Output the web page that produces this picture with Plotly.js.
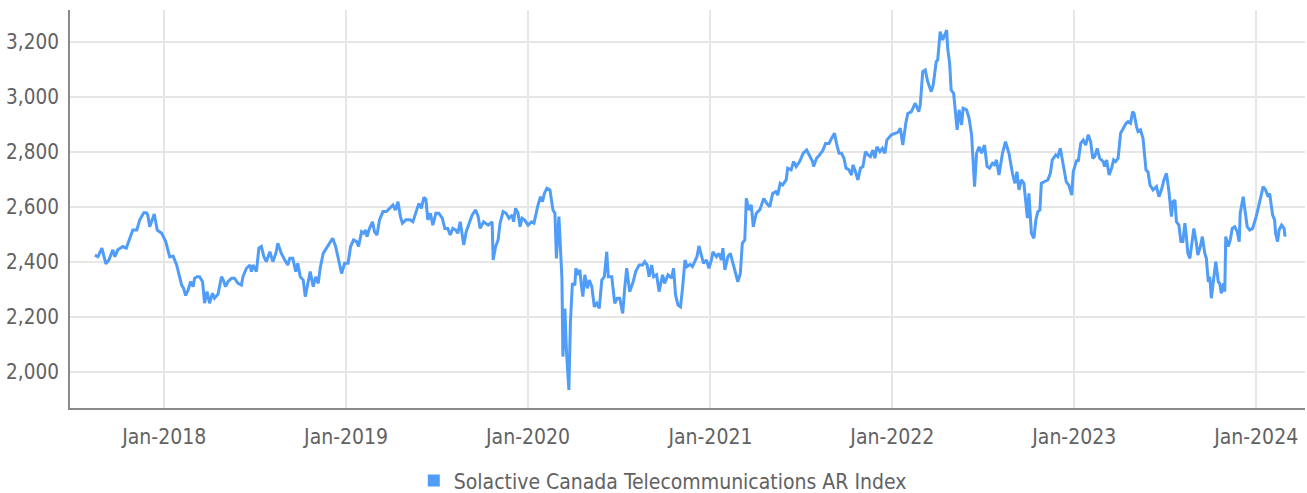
<!DOCTYPE html>
<html>
<head>
<meta charset="utf-8">
<script src="https://cdn.plot.ly/plotly-3.0.1.min.js"></script>
<style>
html,body{margin:0;padding:0;background:#fff;}
#chart{width:1307px;height:493px;}
</style>
</head>
<body>
<div id="chart"></div>
<script>
const seriesName = "Solactive Canada Telecommunications AR Index";

const dates = [
"2017-08-15","2017-08-21","2017-08-29","2017-09-06","2017-09-12","2017-09-20","2017-09-24","2017-09-30","2017-10-10","2017-10-17",
"2017-10-24","2017-10-30","2017-11-07","2017-11-13","2017-11-21","2017-11-26","2017-11-29","2017-12-03","2017-12-12","2017-12-18",
"2017-12-27","2018-01-04","2018-01-12","2018-01-19","2018-01-26","2018-01-31","2018-02-05","2018-02-09","2018-02-13","2018-02-18",
"2018-02-23","2018-02-28","2018-03-03","2018-03-08","2018-03-13","2018-03-19","2018-03-23","2018-03-28","2018-04-02","2018-04-08",
"2018-04-12","2018-04-19","2018-04-26","2018-04-30","2018-05-04","2018-05-09","2018-05-16","2018-05-22","2018-05-29","2018-06-05",
"2018-06-08","2018-06-15","2018-06-22","2018-06-25","2018-06-28","2018-07-05","2018-07-10","2018-07-15","2018-07-20","2018-07-25",
"2018-08-01","2018-08-07","2018-08-13","2018-08-17","2018-08-24","2018-08-31","2018-09-06","2018-09-10","2018-09-16","2018-09-22",
"2018-09-26","2018-10-01","2018-10-07","2018-10-11","2018-10-17","2018-10-21","2018-10-27","2018-11-01","2018-11-06","2018-11-10",
"2018-11-16","2018-11-22","2018-11-28","2018-12-05","2018-12-11","2018-12-18","2018-12-23","2018-12-29","2019-01-05","2019-01-10",
"2019-01-16","2019-01-22","2019-01-26","2019-02-01","2019-02-05","2019-02-09","2019-02-12","2019-02-17","2019-02-23","2019-02-27",
"2019-03-04","2019-03-09","2019-03-16","2019-03-23","2019-03-29","2019-04-05","2019-04-10","2019-04-15","2019-04-20","2019-04-24",
"2019-05-01","2019-05-09","2019-05-15","2019-05-22","2019-05-27","2019-06-01","2019-06-06","2019-06-10","2019-06-14","2019-06-19",
"2019-06-24","2019-06-30","2019-07-06","2019-07-13","2019-07-18","2019-07-24","2019-07-29","2019-08-03","2019-08-09","2019-08-13",
"2019-08-18","2019-08-25","2019-08-30","2019-09-06","2019-09-11","2019-09-18","2019-09-23","2019-09-27","2019-10-04","2019-10-13",
"2019-10-21","2019-10-23","2019-10-28","2019-11-02","2019-11-06","2019-11-12","2019-11-18","2019-11-24","2019-11-30","2019-12-03",
"2019-12-07","2019-12-12","2019-12-16","2019-12-20","2019-12-25","2020-01-01","2020-01-08","2020-01-13","2020-01-17","2020-01-21",
"2020-01-26","2020-01-30","2020-02-03","2020-02-08","2020-02-14","2020-02-17","2020-02-20","2020-02-24","2020-02-27","2020-03-03",
"2020-03-07","2020-03-09","2020-03-11","2020-03-15","2020-03-18","2020-03-23","2020-03-26","2020-03-30","2020-04-04","2020-04-06",
"2020-04-10","2020-04-14","2020-04-17","2020-04-20","2020-04-24","2020-04-29","2020-05-03","2020-05-08","2020-05-13","2020-05-18",
"2020-05-23","2020-05-28","2020-06-02","2020-06-07","2020-06-10","2020-06-17","2020-06-23","2020-06-28","2020-07-03","2020-07-09",
"2020-07-13","2020-07-17","2020-07-23","2020-07-30","2020-08-04","2020-08-11","2020-08-18","2020-08-22","2020-08-27","2020-08-31",
"2020-09-05","2020-09-09","2020-09-15","2020-09-20","2020-09-27","2020-10-01","2020-10-08","2020-10-15","2020-10-19","2020-10-23",
"2020-10-28","2020-11-02","2020-11-06","2020-11-11","2020-11-15","2020-11-21","2020-11-26","2020-12-01","2020-12-05","2020-12-09",
"2020-12-14","2020-12-18","2020-12-24","2020-12-29","2021-01-03","2021-01-06","2021-01-13","2021-01-18","2021-01-23","2021-01-26",
"2021-01-30","2021-02-05","2021-02-10","2021-02-15","2021-02-20","2021-02-25","2021-03-02","2021-03-06","2021-03-11","2021-03-14",
"2021-03-19","2021-03-24","2021-03-28","2021-04-03","2021-04-10","2021-04-18","2021-04-24","2021-04-30","2021-05-06","2021-05-12",
"2021-05-16","2021-05-21","2021-05-26","2021-06-02","2021-06-05","2021-06-12","2021-06-17","2021-06-22","2021-06-29","2021-07-06",
"2021-07-13","2021-07-18","2021-07-25","2021-07-27","2021-08-02","2021-08-08","2021-08-15","2021-08-20","2021-08-27","2021-09-01",
"2021-09-07","2021-09-11","2021-09-16","2021-09-21","2021-09-26","2021-09-30","2021-10-06","2021-10-11","2021-10-14","2021-10-19",
"2021-10-24","2021-10-29","2021-11-03","2021-11-08","2021-11-13","2021-11-18","2021-11-23","2021-11-27","2021-12-01","2021-12-07",
"2021-12-12","2021-12-17","2021-12-21","2021-12-30","2022-01-06","2022-01-12","2022-01-17","2022-01-22","2022-01-28","2022-02-01",
"2022-02-08","2022-02-16","2022-02-23","2022-02-26","2022-03-03","2022-03-08","2022-03-13","2022-03-20","2022-03-24","2022-03-30",
"2022-04-02","2022-04-07","2022-04-12","2022-04-16","2022-04-20","2022-04-22","2022-04-26","2022-04-29","2022-05-04","2022-05-11",
"2022-05-15","2022-05-20","2022-05-23","2022-05-30","2022-06-04","2022-06-09","2022-06-12","2022-06-15","2022-06-19","2022-06-24",
"2022-06-29","2022-07-05","2022-07-10","2022-07-15","2022-07-21","2022-07-25","2022-07-29","2022-08-03","2022-08-10","2022-08-16",
"2022-08-23","2022-08-30","2022-09-04","2022-09-08","2022-09-12","2022-09-17","2022-09-22","2022-09-25","2022-09-29","2022-10-02",
"2022-10-07","2022-10-12","2022-10-16","2022-10-20","2022-10-24","2022-10-27","2022-11-03","2022-11-09","2022-11-14","2022-11-18",
"2022-11-25","2022-11-29","2022-12-04","2022-12-09","2022-12-16","2022-12-21","2022-12-27","2022-12-30","2023-01-06","2023-01-09",
"2023-01-14","2023-01-19","2023-01-24","2023-01-29","2023-02-03","2023-02-07","2023-02-11","2023-02-16","2023-02-21","2023-02-28",
"2023-03-03","2023-03-07","2023-03-12","2023-03-17","2023-03-21","2023-03-25","2023-03-30","2023-04-04","2023-04-09","2023-04-15",
"2023-04-19","2023-04-24","2023-04-28","2023-05-01","2023-05-06","2023-05-09","2023-05-14","2023-05-19","2023-05-25","2023-05-29",
"2023-06-02","2023-06-08","2023-06-15","2023-06-20","2023-06-25","2023-06-30","2023-07-05","2023-07-10","2023-07-15","2023-07-18",
"2023-07-22","2023-07-25","2023-07-30","2023-08-03","2023-08-07","2023-08-11","2023-08-14","2023-08-17","2023-08-21","2023-08-24",
"2023-08-29","2023-09-03","2023-09-06","2023-09-11","2023-09-15","2023-09-20","2023-09-23","2023-09-27","2023-09-30","2023-10-03",
"2023-10-08","2023-10-12","2023-10-17","2023-10-20","2023-10-23","2023-10-28","2023-10-30","2023-11-01","2023-11-06","2023-11-10",
"2023-11-14","2023-11-19","2023-11-24","2023-11-28","2023-11-30","2023-12-06","2023-12-09","2023-12-14","2023-12-19","2023-12-25",
"2024-01-01","2024-01-07","2024-01-12","2024-01-15","2024-01-20","2024-01-25","2024-01-28","2024-02-03","2024-02-07","2024-02-09",
"2024-02-13","2024-02-16","2024-02-21","2024-02-26","2024-02-28"
];

const values = [
2424,2418,2449,2392,2406,2443,2418,2443,2455,2449,
2485,2515,2515,2552,2578,2578,2570,2527,2573,2515,
2503,2473,2418,2420,2388,2352,2315,2303,2277,2297,
2327,2309,2340,2345,2345,2327,2249,2291,2249,2285,
2267,2282,2345,2331,2309,2327,2340,2340,2321,2315,
2345,2376,2388,2364,2388,2364,2449,2455,2418,2400,
2436,2400,2430,2467,2430,2406,2388,2412,2412,2364,
2394,2345,2333,2273,2321,2364,2309,2345,2321,2376,
2430,2449,2467,2485,2455,2400,2357,2394,2394,2455,
2479,2473,2455,2509,2503,2515,2491,2521,2545,2509,
2497,2552,2582,2582,2594,2606,2588,2618,2564,2540,
2552,2552,2545,2588,2612,2594,2634,2627,2552,2576,
2533,2576,2576,2558,2521,2521,2497,2521,2515,2503,
2545,2461,2509,2545,2570,2588,2564,2521,2545,2533,
2545,2406,2455,2479,2540,2582,2576,2558,2570,2545,
2594,2576,2527,2558,2552,2533,2545,2540,2576,2606,
2636,2618,2649,2667,2661,2630,2588,2576,2412,2564,
2418,2340,2055,2230,2079,1934,2176,2321,2315,2376,
2352,2370,2315,2273,2352,2303,2333,2309,2236,2249,
2230,2333,2345,2436,2345,2345,2249,2267,2267,2212,
2303,2376,2291,2327,2364,2388,2388,2400,2388,2345,
2388,2345,2352,2291,2352,2321,2352,2340,2376,2279,
2242,2236,2303,2406,2382,2390,2382,2406,2418,2457,
2421,2394,2406,2376,2406,2436,2418,2430,2406,2449,
2370,2418,2430,2394,2357,2327,2357,2467,2479,2630,
2588,2606,2527,2576,2588,2630,2612,2600,2648,2655,
2642,2685,2679,2697,2740,2734,2764,2746,2764,2794,
2806,2788,2764,2746,2776,2788,2806,2830,2830,2848,
2867,2830,2794,2794,2776,2740,2734,2715,2752,2727,
2697,2740,2746,2800,2788,2782,2806,2776,2818,2800,
2812,2794,2842,2861,2867,2870,2885,2824,2903,2939,
2945,2976,2945,2970,3091,3097,3055,3018,3042,3127,
3133,3236,3206,3224,3242,3176,3121,3024,3012,2879,
2952,2897,2958,2952,2921,2861,2782,2673,2794,2818,
2794,2824,2746,2740,2758,2752,2770,2715,2794,2836,
2794,2721,2685,2727,2661,2697,2685,2624,2558,2648,
2503,2485,2552,2582,2588,2685,2691,2697,2721,2770,
2788,2782,2812,2758,2690,2679,2642,2727,2770,2764,
2830,2842,2824,2861,2836,2776,2782,2812,2776,2764,
2746,2770,2715,2740,2770,2764,2776,2867,2885,2903,
2909,2903,2945,2939,2891,2873,2879,2848,2733,2727,
2679,2661,2673,2636,2661,2697,2721,2655,2564,2618,
2624,2545,2533,2473,2473,2540,2491,2430,2412,2455,
2521,2467,2424,2455,2491,2430,2412,2327,2345,2267,
2339,2400,2327,2321,2285,2321,2291,2491,2455,2479,
2521,2527,2509,2473,2576,2636,2594,2527,2515,2521,
2564,2606,2648,2673,2661,2636,2648,2570,2552,2503,
2473,2515,2533,2521,2491
];

const yTickStep = 200;
const xRange = ["2017-06-26", "2024-04-08"];
const yRange = [1868, 3315];

const lineColor = "#4f9cf9";
const textColor = "#626262";
const fontFamily = "'DejaVu Sans Condensed', 'Liberation Sans Narrow', sans-serif";

const traces = [
  {
    type: "scatter",
    mode: "lines",
    x: dates,
    y: values,
    name: seriesName,
    showlegend: false,
    line: { color: lineColor, width: 3 },
    hoverinfo: "x+y"
  },
  {
    type: "bar",
    x: [null],
    y: [null],
    name: seriesName,
    marker: { color: lineColor },
    showlegend: true,
    hoverinfo: "skip"
  }
];

const layout = {
  width: 1307,
  height: 493,
  margin: { l: 70, r: 2, t: 10, b: 85, autoexpand: false },
  paper_bgcolor: "#ffffff",
  plot_bgcolor: "#ffffff",
  font: { family: fontFamily, color: textColor, size: 21 },
  showlegend: true,
  legend: {
    orientation: "h",
    x: 0.48,
    xanchor: "center",
    y: -0.183,
    yanchor: "middle",
    font: { family: fontFamily, size: 21, color: textColor },
    itemwidth: 30
  },
  xaxis: {
    type: "date",
    range: xRange,
    tick0: "2018-01-01",
    dtick: "M12",
    tickformat: "%b-%Y",
    showgrid: true,
    gridcolor: "#e6e6e6",
    gridwidth: 2,
    showline: true,
    linecolor: "#8a8a8a",
    linewidth: 2,
    ticks: "",
    ticklabelstandoff: 9,
    zeroline: false,
    tickfont: { family: fontFamily, size: 21, color: textColor }
  },
  yaxis: {
    range: yRange,
    dtick: yTickStep,
    tick0: 0,
    tickformat: ",d",
    showgrid: true,
    gridcolor: "#e6e6e6",
    gridwidth: 2,
    showline: true,
    linecolor: "#8a8a8a",
    linewidth: 2,
    ticks: "",
    ticklabelstandoff: 5,
    zeroline: false,
    tickfont: { family: fontFamily, size: 20.5, color: textColor }
  }
};

Plotly.newPlot("chart", traces, layout, { displayModeBar: false, staticPlot: true });
</script>
</body>
</html>
